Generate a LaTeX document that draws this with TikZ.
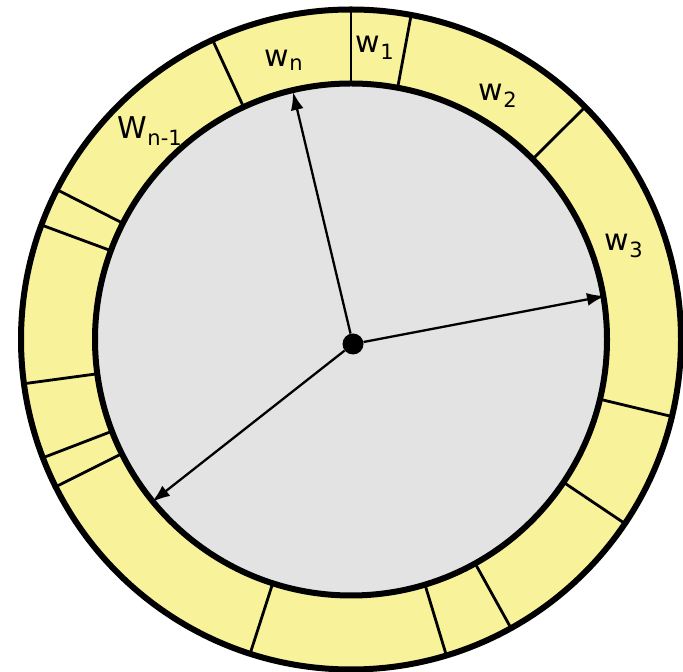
\documentclass[tikz,border=0pt]{standalone}
\definecolor{RingYellow}{HTML}{F8F29A}
\definecolor{DiscGray}{HTML}{E3E3E3}
\usepackage{fontspec}
\setmainfont{DejaVu Sans}
\usepackage{tikz}
\usetikzlibrary{arrows.meta,calc}

\tikzset{
  divider/.style={line width=2.8pt},
  rim/.style={line width=6pt},
  spoke/.style={line width=2.3pt,-{Latex[length=18pt,width=13pt]}},
  wlabel/.style={inner sep=0pt,font=\fontsize{30}{34}\selectfont}
}

\begin{document}
\begin{tikzpicture}[x=1pt,y=1pt]
  \useasboundingbox (0,0) rectangle (683,672);
  \coordinate (ctr) at (351,332.5);

  % Outer ring
  \fill[RingYellow] (ctr) circle[radius=330];
  \foreach \a in {44.8,79.5,90,114.8,153,159.7,187.7,201,206.5,252.2,286.8,299,326.1,346.5}
    \draw[divider] ($(ctr)+(\a:252)$) -- ($(ctr)+(\a:330)$);
  \draw[rim] (ctr) circle[radius=330];

  % Inner disc
  \draw[rim,fill=DiscGray] (ctr) circle[radius=256];

  % Labels
  \node[wlabel] (lwn) at (284,612) {w\textsubscript{n}};
  \node[wlabel] (lw1) at (375,624) {w\textsubscript{1}};
  \node[wlabel] (lw2) at (498,576) {w\textsubscript{2}};
  \node[wlabel] (lw3) at (624,426) {w\textsubscript{3}};
  \node[wlabel] (lwm) at (150,541) {W\textsubscript{n-1}};

  % Hub and spokes
  \node[circle,fill=black,inner sep=0pt,minimum size=21pt] (hub) at (353,328) {};
  \coordinate (tipn) at (293,580);
  \coordinate (tipr) at (605,376);
  \coordinate (tipl) at (152,170);
  \draw[spoke] (hub) -- (tipn);
  \draw[spoke] (hub) -- (tipr);
  \draw[spoke] (hub) -- (tipl);
\end{tikzpicture}
\end{document}
